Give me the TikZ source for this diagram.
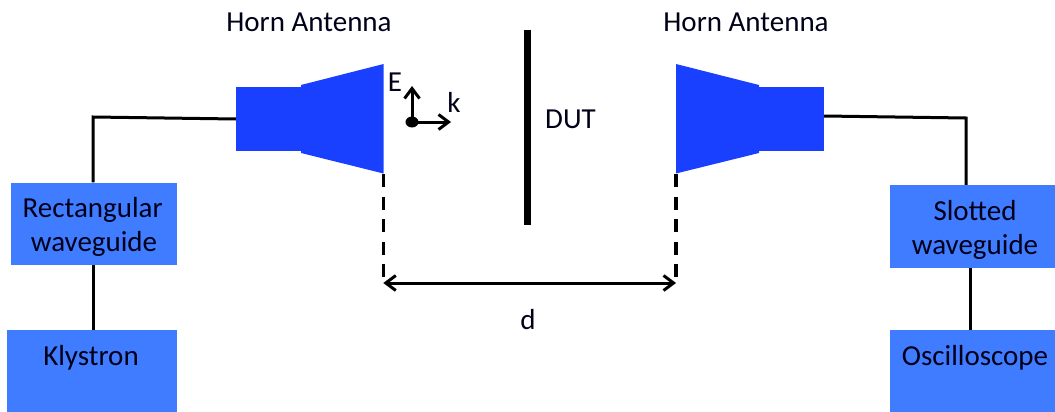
\documentclass[tikz,border=0pt]{standalone}
\usepackage{fontspec}
\setmainfont{Carlito}
\usetikzlibrary{arrows.meta}
\definecolor{hornblue}{HTML}{1A40FF}
\definecolor{boxblue}{HTML}{3F7CFF}
\tikzset{
  unitbox/.style={fill=boxblue,draw=none,inner sep=0pt},
  lbl/.style={inner sep=0pt,anchor=base,font=\fontsize{29}{34}\selectfont,text=black!90!blue},
  wire/.style={draw=black,line width=3pt,line join=miter},
  hornpart/.style={fill=hornblue,draw=none},
  guide/.style={draw=black,line width=3.4pt,dash pattern=on 13pt off 9.6pt},
  barb/.style={draw=black,line width=3pt,{Straight Barb[length=10pt,width=15pt,line width=3pt]}-{Straight Barb[length=10pt,width=15pt,line width=3pt]}},
  onebarb/.style={draw=black,line width=3pt,-{Straight Barb[length=10pt,width=15pt,line width=3pt]}},
}
\begin{document}
\begin{tikzpicture}[x=1pt,y=-1pt]
\useasboundingbox (0,0) rectangle (1055,412);
\clip (0,0) rectangle (1055,412);
% boxes
\node[unitbox,minimum width=166.5pt,minimum height=82.5pt] (rect) at (93.75,223.75) {};
\node[unitbox,minimum width=170pt,minimum height=82pt] (kly) at (92,371) {};
\node[unitbox,minimum width=165pt,minimum height=83pt] (slot) at (972.5,226.5) {};
\node[unitbox,minimum width=165pt,minimum height=82pt] (osc) at (972.5,371) {};
\node[lbl] (recta) at (92.7,217) {Rectangular};
\node[lbl] (rectb) at (94,251) {waveguide};
\node[lbl] (slota) at (975,220) {Slotted};
\node[lbl] (slotb) at (975,254) {waveguide};
\node[lbl] (klytext) at (91,365) {Klystron};
\node[lbl] (osctext) at (975,365) {Oscilloscope};
% horns
\node[hornpart,inner sep=0pt,minimum width=65pt,minimum height=64pt] (lfeed) at (268.5,119) {};
\node[hornpart,inner sep=0pt,minimum width=65pt,minimum height=64pt] (rfeed) at (791.5,119) {};
\fill[hornblue] (301,85) -- (383.5,64) -- (383.5,173.5) -- (301,153) -- cycle;
\fill[hornblue] (759,85) -- (676,64) -- (676,173.5) -- (759,153) -- cycle;
% wires
\coordinate (lcorner) at (93,117);
\coordinate (rcorner) at (966,118);
\draw[wire] (lfeed.west) -- (lcorner) -- (lcorner |- rect.north);
\draw[wire] ([yshift=3pt]rfeed.east) -- (rcorner) -- (rcorner |- slot.north);
\draw[wire] (rect.south) -- (rect.south |- kly.north);
\draw[wire] ([xshift=-2.5pt]slot.south) -- ([xshift=-2.5pt]slot.south |- osc.north);
% DUT
\coordinate (dutt) at (527,30);
\coordinate (dutb) at (527,225);
\draw[draw=black,line width=7pt] (dutt) -- (dutb);
\node[lbl,anchor=base west] (dut) at (545,128) {DUT};
% dimension
\coordinate (dl0) at (383.3,174);
\coordinate (dl1) at (383.3,283);
\coordinate (dr0) at (676,174);
\coordinate (dr1) at (676,283);
\draw[guide] (dl0) -- (dl1);
\draw[guide] (dr0) -- (dr1);
\draw[barb] (dl1) -- (dr1);
\node[lbl] (d) at (528,329) {d};
% field vectors
\coordinate (o) at (412,122);
\coordinate (eend) at (412,86);
\coordinate (kend) at (451,122);
\fill[black] (o) ellipse [x radius=6.5pt,y radius=5.5pt];
\draw[onebarb] (o) -- (eend);
\draw[onebarb] (o) -- (kend);
\node[lbl] (E) at (395,92) {E};
\node[lbl] (k) at (454,112) {k};
% titles
\node[lbl] (h1) at (309,32) {Horn Antenna};
\node[lbl] (h2) at (746,32) {Horn Antenna};
\end{tikzpicture}
\end{document}
